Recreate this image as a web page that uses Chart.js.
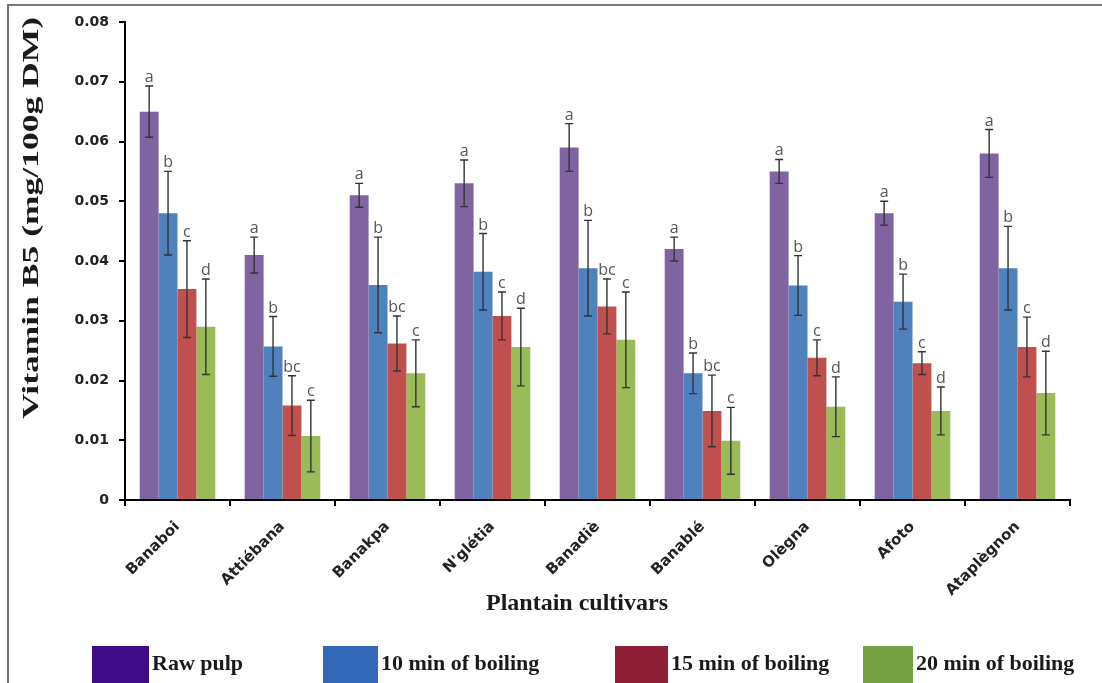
<!DOCTYPE html>
<html>
<head>
<meta charset="utf-8">
<script src="https://cdn.jsdelivr.net/npm/chart.js@4/dist/chart.umd.min.js"></script>
<style>
  html, body { margin: 0; padding: 0; background: #fff; }
  #wrap { width: 1102px; height: 683px; position: relative; }
</style>
</head>
<body>
<div id="wrap"><canvas id="c" width="1102" height="683"></canvas></div>
<script>
// Plantain cultivars on the x axis
const categories = ['Banaboi', 'Attiébana', 'Banakpa', "N'glétia", 'Banadiè', 'Banablé', 'Olègna', 'Afoto', 'Ataplègnon'];

// Series names
const seriesNames = ['Raw pulp', '10 min of boiling', '15 min of boiling', '20 min of boiling'];

// Vitamin B5 means (mg/100g DM) and their standard deviations
const rawPulp     = [0.065, 0.041, 0.051, 0.053, 0.059, 0.042, 0.055, 0.048, 0.058];
const rawPulpSd   = [0.0043, 0.003, 0.002, 0.0039, 0.004, 0.002, 0.002, 0.002, 0.004];
const boil10      = [0.048, 0.0257, 0.036, 0.0382, 0.0388, 0.0212, 0.0359, 0.0332, 0.0388];
const boil10Sd    = [0.007, 0.005, 0.008, 0.0064, 0.008, 0.0034, 0.005, 0.0046, 0.007];
const boil15      = [0.0353, 0.0158, 0.0262, 0.0308, 0.0324, 0.0149, 0.0238, 0.0229, 0.0256];
const boil15Sd    = [0.0081, 0.005, 0.0046, 0.004, 0.0046, 0.006, 0.003, 0.0019, 0.005];
const boil20      = [0.029, 0.0107, 0.0212, 0.0256, 0.0268, 0.0099, 0.0156, 0.0149, 0.0179];
const boil20Sd    = [0.008, 0.006, 0.0056, 0.0065, 0.008, 0.0056, 0.005, 0.004, 0.007];

// Significance letters
const rawPulpLetters = ['a', 'a', 'a', 'a', 'a', 'a', 'a', 'a', 'a'];
const boil10Letters  = ['b', 'b', 'b', 'b', 'b', 'b', 'b', 'b', 'b'];
const boil15Letters  = ['c', 'bc', 'bc', 'c', 'bc', 'bc', 'c', 'c', 'c'];
const boil20Letters  = ['d', 'c', 'c', 'd', 'c', 'c', 'd', 'd', 'd'];

// Y axis tick labels
const yTickLabels = ['0', '0.01', '0.02', '0.03', '0.04', '0.05', '0.06', '0.07', '0.08'];

const barColors    = ['#8064a2', '#4f81bd', '#c0504d', '#9bbb59'];
const legendColors = ['#3f0b86', '#3468b9', '#8e1f36', '#76a143'];
const means   = [rawPulp, boil10, boil15, boil20];
const sds     = [rawPulpSd, boil10Sd, boil15Sd, boil20Sd];
const letters = [rawPulpLetters, boil10Letters, boil15Letters, boil20Letters];

// Error bars and letters above each bar
const errorBarPlugin = {
  id: 'errorBars',
  afterDatasetsDraw(chart) {
    const ctx = chart.ctx;
    const y = chart.scales.y;
    ctx.save();
    chart.data.datasets.forEach((ds, di) => {
      const meta = chart.getDatasetMeta(di);
      meta.data.forEach((bar, i) => {
        const v = means[di][i], e = sds[di][i];
        const yTop = y.getPixelForValue(v + e);
        const yBot = y.getPixelForValue(v - e);
        const x = bar.x;
        ctx.strokeStyle = '#333';
        ctx.lineWidth = 1.4;
        ctx.beginPath();
        ctx.moveTo(x, yTop); ctx.lineTo(x, yBot);
        ctx.moveTo(x - 4, yTop); ctx.lineTo(x + 4, yTop);
        ctx.moveTo(x - 4, yBot); ctx.lineTo(x + 4, yBot);
        ctx.stroke();
        ctx.fillStyle = '#555';
        ctx.font = '16px "Open Sans", sans-serif';
        ctx.textAlign = 'center';
        ctx.textBaseline = 'alphabetic';
        ctx.fillText(letters[di][i], x, yTop - 4);
      });
    });
    ctx.restore();
  }
};

// Frame, axis titles and legend
const decorPlugin = {
  id: 'decor',
  beforeDraw(chart) {
    const ctx = chart.ctx;
    ctx.save();
    ctx.fillStyle = '#fff';
    ctx.fillRect(0, 0, chart.width, chart.height);
    ctx.strokeStyle = '#777';
    ctx.lineWidth = 2;
    ctx.beginPath();
    ctx.moveTo(8, chart.height);
    ctx.lineTo(8, 5);
    ctx.lineTo(chart.width, 5);
    ctx.stroke();
    ctx.restore();
  },
  afterDraw(chart) {
    const ctx = chart.ctx;
    ctx.save();
    ctx.fillStyle = '#1a1a1a';

    // Y axis title, stretched along its length
    const yTitle = 'Vitamin B5 (mg/100g DM)';
    ctx.font = 'bold 23px "Liberation Serif", serif';
    const w = ctx.measureText(yTitle).width;
    ctx.translate(32, 218);
    ctx.rotate(-Math.PI / 2);
    ctx.scale(402 / w, 1);
    ctx.textAlign = 'center';
    ctx.textBaseline = 'middle';
    ctx.fillText(yTitle, 0, 0);
    ctx.setTransform(1, 0, 0, 1, 0, 0);

    // X axis title
    ctx.font = 'bold 24px "Liberation Serif", serif';
    ctx.textAlign = 'center';
    ctx.textBaseline = 'middle';
    ctx.fillText('Plantain cultivars', 577, 604);

    // Legend
    const items = [
      { bx: 92,  bw: 57 },
      { bx: 323, bw: 55 },
      { bx: 615, bw: 53 },
      { bx: 863, bw: 50 }
    ];
    ctx.font = 'bold 22px "Liberation Serif", serif';
    ctx.textAlign = 'left';
    items.forEach((it, i) => {
      ctx.fillStyle = legendColors[i];
      ctx.fillRect(it.bx, 646, it.bw, 37);
      ctx.fillStyle = '#1a1a1a';
      ctx.fillText(seriesNames[i], it.bx + it.bw + 3, 664);
    });
    ctx.restore();
  }
};

new Chart(document.getElementById('c'), {
  type: 'bar',
  data: {
    labels: categories,
    datasets: seriesNames.map((name, i) => ({
      label: name,
      data: means[i],
      backgroundColor: barColors[i],
      borderWidth: 0,
      categoryPercentage: 0.72,
      barPercentage: 1.0
    }))
  },
  options: {
    responsive: false,
    animation: false,
    devicePixelRatio: 1,
    layout: { padding: { left: 0, right: 32, top: 22, bottom: 0 } },
    plugins: {
      legend: { display: false },
      tooltip: { enabled: false }
    },
    scales: {
      x: {
        afterFit(s) { s.height = 183; },
        border: { color: '#000', width: 2 },
        grid: { offset: true, drawOnChartArea: false, color: '#000', tickLength: 6, lineWidth: 2 },
        ticks: {
          maxRotation: 45, minRotation: 45, padding: 12,
          color: '#222',
          font: { family: '"DejaVu Sans", sans-serif', weight: 'bold', size: 15 }
        }
      },
      y: {
        min: 0, max: 0.08,
        afterFit(s) { s.width = 125; },
        border: { color: '#000', width: 2 },
        grid: { drawOnChartArea: false, color: '#000', tickLength: 6, lineWidth: 2 },
        ticks: {
          stepSize: 0.01, padding: 10,
          color: '#222',
          font: { family: '"DejaVu Sans", sans-serif', weight: 'bold', size: 14 },
          callback: (v, i) => yTickLabels[i]
        }
      }
    }
  },
  plugins: [decorPlugin, errorBarPlugin]
});
</script>
</body>
</html>
